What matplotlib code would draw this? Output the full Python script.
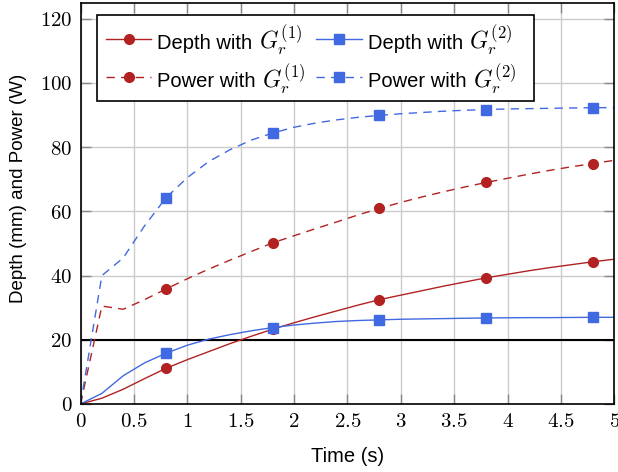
import numpy as np
import matplotlib
matplotlib.use("Agg")
import matplotlib.pyplot as plt
from matplotlib.ticker import FixedLocator, FuncFormatter
from matplotlib.lines import Line2D
from matplotlib.offsetbox import (AnchoredOffsetbox, HPacker, VPacker,
                                  DrawingArea, TextArea)

plt.rcParams["font.family"] = ["Liberation Sans", "DejaVu Sans"]
plt.rcParams["mathtext.fontset"] = "cm"

# Time samples (s)
time_s = [0.0, 0.2, 0.4, 0.6, 0.8, 1.0, 1.2, 1.4, 1.6, 1.8, 2.0, 2.2, 2.4,
          2.6, 2.8, 3.0, 3.2, 3.4, 3.6, 3.8, 4.0, 4.2, 4.4, 4.6, 4.8, 5.0]

depth_g1 = [0.0, 1.8, 4.6, 7.9, 11.1, 13.8, 16.3, 18.8, 21.1, 23.3, 25.3, 27.2, 29.0,
            30.8, 32.5, 33.9, 35.3, 36.7, 38.0, 39.3, 40.4, 41.5, 42.5, 43.4, 44.3, 45.1]
depth_g2 = [0.0, 3.3, 8.8, 12.8, 15.8, 18.3, 20.2, 21.6, 22.8, 23.8, 24.6, 25.2, 25.7,
            26.0, 26.2, 26.4, 26.5, 26.6, 26.7, 26.8, 26.85, 26.9, 26.9, 26.95, 27.0, 27.0]
power_g1 = [0.0, 30.5, 29.5, 32.5, 35.8, 39.0, 42.0, 44.8, 47.5, 50.2, 52.4, 54.6, 56.7,
            58.9, 60.9, 62.8, 64.5, 66.1, 67.6, 69.0, 70.3, 71.6, 72.8, 73.9, 74.9, 75.9]
power_g2 = [0.0, 40.0, 45.5, 55.5, 64.2, 70.5, 75.5, 79.2, 82.2, 84.4, 86.2, 87.5, 88.5,
            89.3, 89.9, 90.4, 90.8, 91.2, 91.5, 91.7, 91.9, 92.0, 92.1, 92.2, 92.3, 92.3]

depth_limit = 20

x_ticks = [0, 0.5, 1, 1.5, 2, 2.5, 3, 3.5, 4, 4.5, 5]
y_ticks = [0, 20, 40, 60, 80, 100, 120]

legend_text = ["Depth with", "Depth with", "Power with", "Power with"]
legend_math = [r"$G_r^{(1)}$", r"$G_r^{(2)}$", r"$G_r^{(1)}$", r"$G_r^{(2)}$"]

RED = "#B22222"
BLUE = "#4169E1"
DASH = (6.0, 4.5)

fig = plt.figure(figsize=(6.18, 4.72), dpi=100)
ax = fig.add_axes([0.1303, 0.1441, 0.994 - 0.1303, 0.9943 - 0.1441])

styles = [
    dict(color=RED, marker="o", ms=7, dashes=None),
    dict(color=BLUE, marker="s", ms=6.5, dashes=None),
    dict(color=RED, marker="o", ms=7, dashes=DASH),
    dict(color=BLUE, marker="s", ms=6.5, dashes=DASH),
]
series = [depth_g1, depth_g2, power_g1, power_g2]

for ys, st in zip(series, styles):
    kw = dict(color=st["color"], lw=1.0, marker=st["marker"],
              markersize=st["ms"], markevery=(4, 5), zorder=3)
    if st["dashes"] is not None:
        kw["dashes"] = st["dashes"]
    ax.plot(time_s, ys, **kw)

ax.axhline(depth_limit, color="black", lw=1.5, zorder=2)

ax.set_xlim(0, 5)
ax.set_ylim(0, 125)
ax.xaxis.set_major_locator(FixedLocator(x_ticks))
ax.yaxis.set_major_locator(FixedLocator(y_ticks))
fmt = FuncFormatter(lambda v, p: r"$%g$" % v)
ax.xaxis.set_major_formatter(fmt)
ax.yaxis.set_major_formatter(fmt)
ax.tick_params(direction="in", length=7, width=1, color="#888888",
               top=True, right=True, labelsize=15, pad=6)
ax.grid(True, color="#cccccc", lw=1)
ax.set_axisbelow(True)
for s in ax.spines.values():
    s.set_linewidth(1.2)
    s.set_zorder(4)

ax.set_xlabel("Time (s)", fontsize=14.5, labelpad=11)
ax.set_ylabel("Depth (mm) and Power (W)", fontsize=13.5)
ax.yaxis.set_label_coords(-0.101, 0.537)


# Legend built from packed boxes so the math part can be sized separately
def legend_entry(st, text, math):
    w, h, yl = 32.5, 14.0, 7.2
    da = DrawingArea(w, h, 0, 0)
    line = Line2D([0, w], [yl, yl], color=st["color"], lw=1.0)
    if st["dashes"] is not None:
        line.set_dashes(st["dashes"])
    da.add_artist(line)
    da.add_artist(Line2D([w / 2], [yl], marker=st["marker"],
                         markersize=st["ms"], color=st["color"], ls="none"))
    t1 = TextArea(text, textprops=dict(fontsize=14.5))
    t2 = TextArea(math, textprops=dict(fontsize=17))
    return HPacker(children=[da, t1, t2], align="baseline", pad=0, sep=4.5)


def gap(w, h):
    return DrawingArea(w, h, 0, 0)


entries = [legend_entry(st, t, m) for st, t, m in zip(styles, legend_text, legend_math)]
col1 = VPacker(children=[gap(1, 2.7), entries[0], entries[2], gap(1, 0.5)],
               align="left", pad=0, sep=3.3)
col2 = VPacker(children=[gap(1, 2.7), entries[1], entries[3], gap(1, 0.5)],
               align="left", pad=0, sep=3.3)
cols = HPacker(children=[col1, col2], align="top", pad=0, sep=8)
box = HPacker(children=[gap(6.5, 1), cols, gap(13.5, 1)], align="top", pad=0, sep=0)

anchored = AnchoredOffsetbox(loc="upper left", child=box, pad=0,
                             borderpad=0, frameon=True,
                             bbox_to_anchor=(0.0309, 0.9693),
                             bbox_transform=ax.transAxes,
                             prop=dict(size=14.5))
anchored.patch.set_edgecolor("black")
anchored.patch.set_facecolor("white")
anchored.patch.set_linewidth(1.2)
anchored.patch.set_boxstyle("square", pad=0)
anchored.set_zorder(5)
ax.add_artist(anchored)

fig.savefig("out.png", dpi=100)
